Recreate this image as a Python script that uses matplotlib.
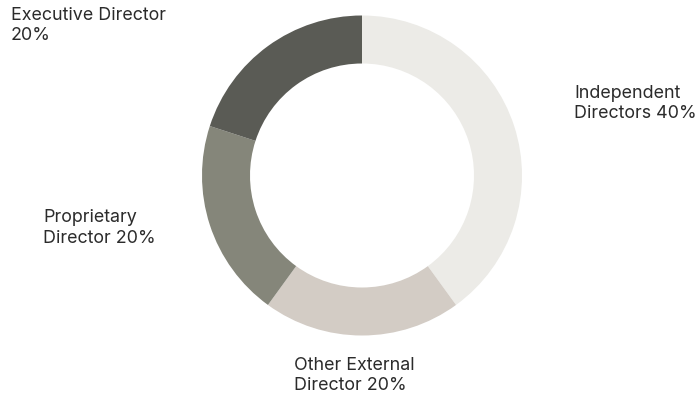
import matplotlib
matplotlib.use('Agg')
import matplotlib.pyplot as plt

# Board composition
categories = ['Independent\nDirectors 40%', 'Other External\nDirector 20%',
              'Proprietary\nDirector 20%', 'Executive Director\n20%']
shares = [40, 20, 20, 20]
colors = ['#ECEBE7', '#D3CCC5', '#85867A', '#5A5B55']
# label anchors (pixel coords, top-left of text)
label_pos = [(574, 88), (294, 360), (43, 213), (11, 10)]

plt.rcParams['font.family'] = ['Inter', 'DejaVu Sans']

fig = plt.figure(figsize=(6.98, 4.01), dpi=100)
ax = fig.add_axes([0, 0, 1, 1])

# y axis is flipped, so run counterclockwise from -90 to look clockwise from the top
ax.pie(shares, colors=colors, startangle=-90, counterclock=True,
       center=(362, 175.5), radius=160, frame=True,
       wedgeprops=dict(width=48, edgecolor='none'))
ax.set_xlim(0, 698)
ax.set_ylim(401, 0)
ax.set_aspect('equal')
ax.axis('off')

for lab, (x, y) in zip(categories, label_pos):
    ax.text(x, y - 3.5, lab, ha='left', va='top', fontsize=12.9,
            color='#2b2b2b', linespacing=1.27)

plt.savefig('out.png', dpi=100)
plt.close()
